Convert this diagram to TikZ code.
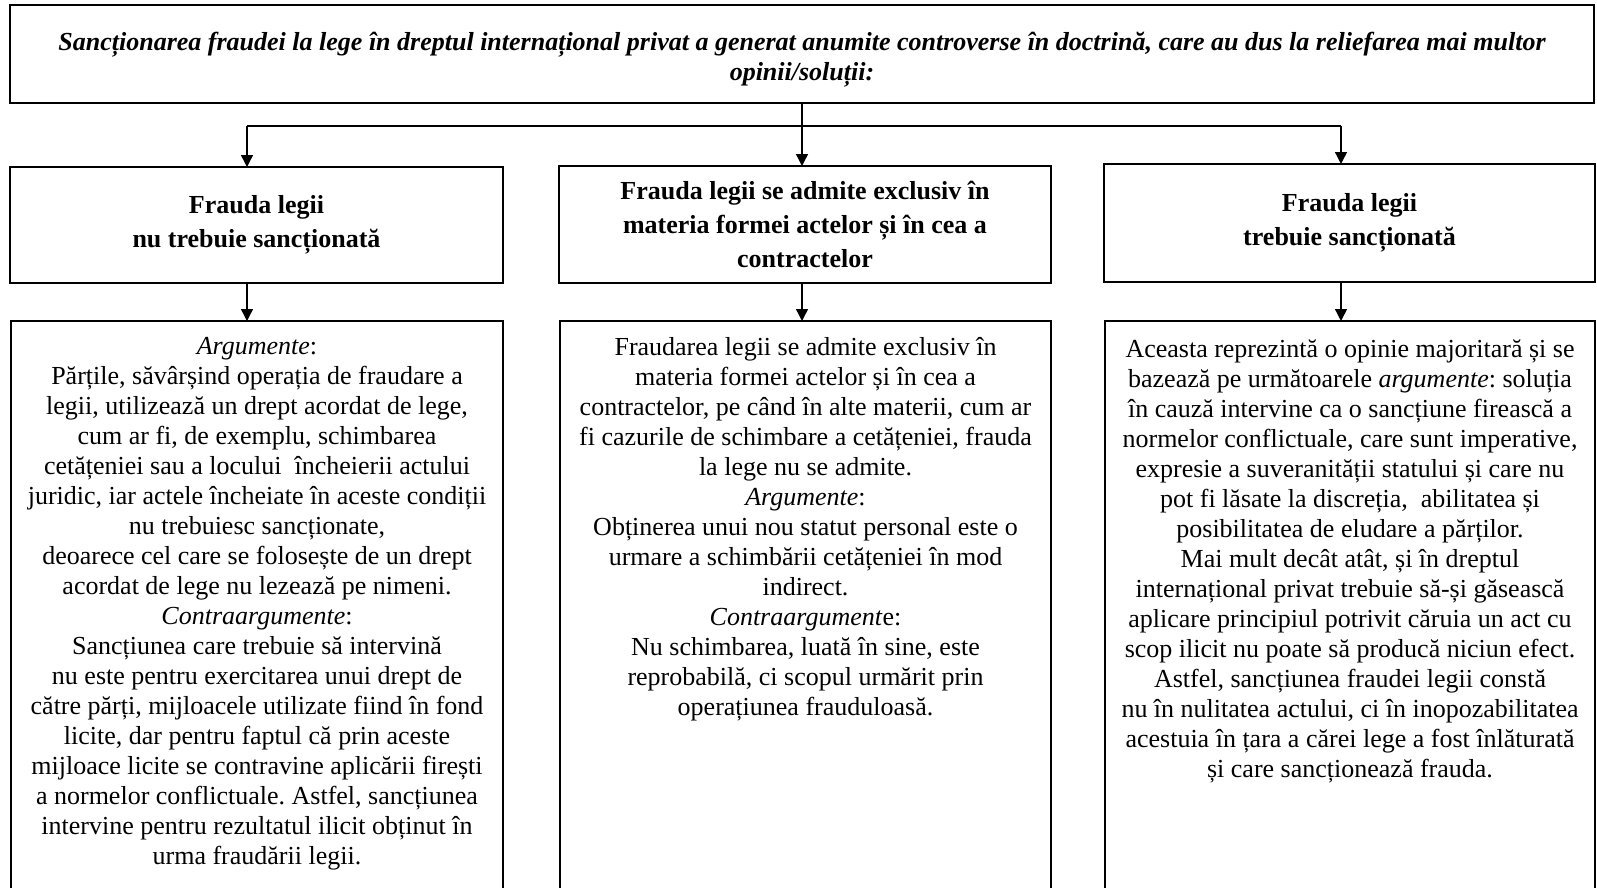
\documentclass[tikz,border=0pt]{standalone}
\usepackage{fontspec}
\setmainfont{Liberation Serif}
\usetikzlibrary{arrows.meta}
\frenchspacing
\begin{document}
\begin{tikzpicture}[x=1pt,y=-1pt,
  frame/.style={draw, line width=1.4pt, inner sep=0pt, outer sep=0pt},
  head/.style={frame, font=\fontsize{26}{34}\selectfont\bfseries, align=center},
  body/.style={font=\fontsize{26}{30}\selectfont, align=center, inner sep=0pt},
  conn/.style={line width=1.4pt},
  arr/.style={line width=1.4pt, -{Triangle[length=12pt,width=12pt]}}]
\useasboundingbox (0,0) rectangle (1597,888);
\clip (0,0) rectangle (1597,888);
% top box
\node[frame, minimum width=1584, minimum height=98, anchor=north] (top) at (802,5) {};
\node[body, font=\fontsize{26}{30}\selectfont\bfseries\itshape] (toptext) at (802,60)
  {Sancționarea fraudei la lege în dreptul internațional privat a generat anumite controverse în doctrină, care au dus la reliefarea mai multor\\ opinii/soluții:};
% level 1
\node[head, minimum width=493, minimum height=116, anchor=north] (A) at (256.5,167)
  {Frauda legii\\ nu trebuie sancționată};
\node[head, minimum width=492, minimum height=117, anchor=north] (B) at (805,166)
  {Frauda legii se admite exclusiv în\\ materia formei actelor și în cea a\\ contractelor};
\node[head, minimum width=491, minimum height=118, anchor=north] (C) at (1349.5,164)
  {Frauda legii\\ trebuie sancționată};
% level 2 frames
\node[frame, minimum width=492, minimum height=640, anchor=north] (A2) at (257,321) {};
\node[frame, minimum width=491, minimum height=640, anchor=north] (B2) at (805.5,321) {};
\node[frame, minimum width=490, minimum height=640, anchor=north] (C2) at (1350,321) {};
% level 2 texts
\node[body, anchor=north] (A2t) at (257,337)
  {\textit{Argumente}:\\
  Părțile, săvârșind operația de fraudare a\\
  legii, utilizează un drept acordat de lege,\\
  cum ar fi, de exemplu, schimbarea\\
  cetățeniei sau a locului\ \ încheierii actului\\
  juridic, iar actele încheiate în aceste condiții\\
  nu trebuiesc sancționate,\\
  deoarece cel care se folosește de un drept\\
  acordat de lege nu lezează pe nimeni.\\
  \textit{Contraargumente}:\\
  Sancțiunea care trebuie să intervină\\
  nu este pentru exercitarea unui drept de\\
  către părți, mijloacele utilizate fiind în fond\\
  licite, dar pentru faptul că prin aceste\\
  mijloace licite se contravine aplicării firești\\
  a normelor conflictuale. Astfel, sancțiunea\\
  intervine pentru rezultatul ilicit obținut în\\
  urma fraudării legii.};
\node[body, anchor=north] (B2t) at (805.5,337)
  {Fraudarea legii se admite exclusiv în\\
  materia formei actelor și în cea a\\
  contractelor, pe când în alte materii, cum ar\\
  fi cazurile de schimbare a cetățeniei, frauda\\
  la lege nu se admite.\\
  \textit{Argumente}:\\
  Obținerea unui nou statut personal este o\\
  urmare a schimbării cetățeniei în mod\\
  indirect.\\
  \textit{Contraargument}e:\\
  Nu schimbarea, luată în sine, este\\
  reprobabilă, ci scopul urmărit prin\\
  operațiunea frauduloasă.};
\node[body, anchor=north] (C2t) at (1350,340)
  {Aceasta reprezintă o opinie majoritară și se\\
  bazează pe următoarele \textit{argumente}: soluția\\
  în cauză intervine ca o sancțiune firească a\\
  normelor conflictuale, care sunt imperative,\\
  expresie a suveranității statului și care nu\\
  pot fi lăsate la discreția,\ \ abilitatea și\\
  posibilitatea de eludare a părților.\\
  Mai mult decât atât, și în dreptul\\
  internațional privat trebuie să-și găsească\\
  aplicare principiul potrivit căruia un act cu\\
  scop ilicit nu poate să producă niciun efect.\\
  Astfel, sancțiunea fraudei legii constă\\
  nu în nulitatea actului, ci în inopozabilitatea\\
  acestuia în țara a cărei lege a fost înlăturată\\
  și care sancționează frauda.};
% connectors
\coordinate (hl) at (247,126);
\coordinate (hr) at (1341,126);
\draw[conn] (top.south) -- (top.south |- hl);
\draw[conn] (hl) -- (hr);
\draw[arr] (hl) -- (hl |- A.north);
\draw[arr] (top.south |- hl) -- (top.south |- B.north);
\draw[arr] (hr) -- (hr |- C.north);
\draw[arr] (hl |- A.south) -- (hl |- A2.north);
\draw[arr] (top.south |- B.south) -- (top.south |- B2.north);
\draw[arr] (hr |- C.south) -- (hr |- C2.north);
\end{tikzpicture}
\end{document}
